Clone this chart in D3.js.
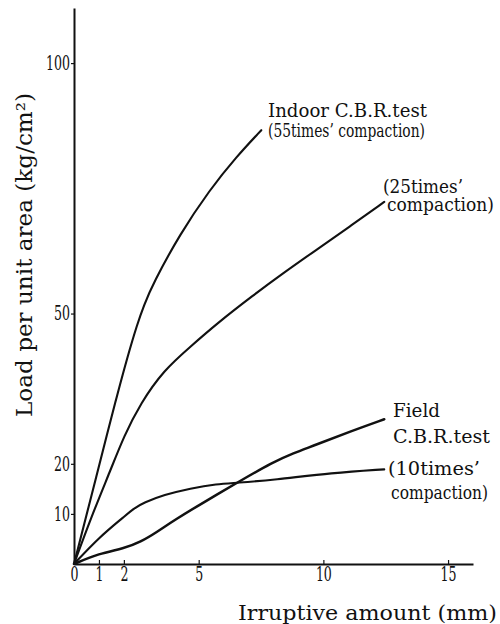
<!DOCTYPE html>
<html>
<head>
<meta charset="utf-8">
<script src="https://cdn.jsdelivr.net/npm/d3@7"></script>
<style>
  body { margin: 0; background: #fff; }
  svg { display: block; }
  text { font-family: "DejaVu Serif", "Liberation Serif", "Noto Serif", serif; fill: #111; }
</style>
</head>
<body>
<div id="chart"></div>
<script>
// Irruptive amount (mm) vs load per unit area (kg/cm2)
const disp55 = [0, 1.0, 1.33, 1.73, 2.13, 2.53, 2.8, 3.17, 4.24, 5.44, 6.51, 7.51];
const load55 = [0, 19.5, 26.0, 33.7, 41.1, 47.8, 51.6, 56.0, 65.8, 74.7, 81.3, 86.6];

const disp25 = [0, 0.7, 1.47, 2.0, 2.67, 3.6, 4.67, 5.73, 7.2, 8.37, 9.71, 11.04, 12.44];
const load25 = [0, 9.5, 18.8, 25.5, 32.1, 38.7, 43.4, 48.0, 53.7, 58.0, 62.7, 67.3, 72.3];

const disp10 = [0, 1.0, 2.0, 2.4, 2.8, 3.6, 4.67, 5.73, 6.53, 8.0, 10.37, 12.44];
const load10 = [0, 5.3, 9.4, 11.1, 12.25, 13.8, 15.1, 16.0, 16.2, 16.8, 18.2, 18.9];

const dispField = [0, 1.0, 2.0, 2.67, 3.33, 4.0, 5.33, 6.53, 8.0, 8.77, 9.71, 11.04, 12.44];
const loadField = [0, 2.1, 3.1, 4.4, 6.4, 8.7, 12.7, 16.2, 20.4, 22.1, 23.8, 26.4, 28.9];

const xTicks = [0, 1, 2, 5, 10, 15];
const yTicks = [10, 20, 50, 100];

const width = 500, height = 624;
const margin = {top: 8, left: 74, right: 27, bottom: 60};
const innerW = width - margin.left - margin.right;
const innerH = height - margin.top - margin.bottom;

const x = d3.scaleLinear().domain([0, 16]).range([0, innerW]);
const y = d3.scaleLinear().domain([0, 111]).range([innerH, 0]);

const svg = d3.select("#chart").append("svg")
  .attr("width", width)
  .attr("height", height);

const g = svg.append("g")
  .attr("transform", `translate(${margin.left},${margin.top})`);

// axes
const xAxis = g.append("g")
  .attr("transform", `translate(0,${innerH})`)
  .call(d3.axisBottom(x).tickValues(xTicks).tickSizeInner(-4).tickSizeOuter(0).tickPadding(3));

const yAxis = g.append("g")
  .call(d3.axisLeft(y).tickValues(yTicks).tickSizeInner(3).tickSizeOuter(0).tickPadding(1));

for (const ax of [xAxis, yAxis]) {
  ax.attr("font-family", null).attr("font-size", null);
  ax.select(".domain").attr("stroke", "#111").attr("stroke-width", 2);
  ax.selectAll(".tick line").attr("stroke", "#111").attr("stroke-width", 1.2);
  ax.selectAll("text")
    .attr("font-size", 20)
    .attr("fill", "#111")
    .attr("textLength", d => String(d).length * 8)
    .attr("lengthAdjust", "spacingAndGlyphs");
}

// curves
const series = [
  {xs: disp55, ys: load55, w: 2.1},
  {xs: disp25, ys: load25, w: 2.1},
  {xs: disp10, ys: load10, w: 2.1},
  {xs: dispField, ys: loadField, w: 2.5}
];

const line = d3.line()
  .x(d => x(d[0]))
  .y(d => y(d[1]))
  .curve(d3.curveBasis);

g.selectAll("path.curve")
  .data(series)
  .join("path")
  .attr("class", "curve")
  .attr("d", s => line(d3.zip(s.xs, s.ys)))
  .attr("fill", "none")
  .attr("stroke", "#111")
  .attr("stroke-width", s => s.w)
  .attr("stroke-linejoin", "round")
  .attr("stroke-linecap", "round");

// curve labels (x, baseline, width)
const labels = [
  ["Indoor  C.B.R.test", 268, 117, 159],
  ["(55times\u2019 compaction)", 268, 137, 157],
  ["(25times\u2019", 383, 193, 80],
  ["compaction)", 387, 211, 107],
  ["Field", 393, 417, 47],
  ["C.B.R.test", 393, 443, 97],
  ["(10times\u2019", 388, 475, 92],
  ["compaction)", 391, 499, 97]
];

svg.selectAll("text.lbl")
  .data(labels)
  .join("text")
  .attr("class", "lbl")
  .attr("x", d => d[1])
  .attr("y", d => d[2])
  .attr("font-size", 19)
  .attr("textLength", d => d[3])
  .attr("lengthAdjust", "spacingAndGlyphs")
  .text(d => d[0]);

// axis titles
svg.append("text")
  .attr("x", 238)
  .attr("y", 620)
  .attr("font-size", 21)
  .attr("textLength", 259)
  .attr("lengthAdjust", "spacingAndGlyphs")
  .text("Irruptive  amount (mm)");

svg.append("text")
  .attr("transform", "translate(32,255) rotate(-90)")
  .attr("text-anchor", "middle")
  .attr("font-size", 22)
  .attr("textLength", 324)
  .attr("lengthAdjust", "spacingAndGlyphs")
  .text("Load per unit area (kg/cm\u00B2)");
</script>
</body>
</html>
